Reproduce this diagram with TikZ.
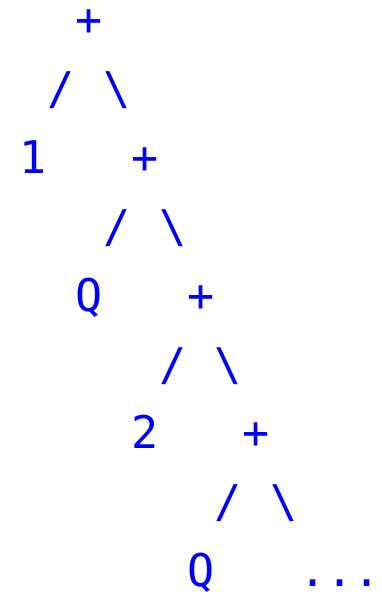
\documentclass[tikz,border=0pt]{standalone}
\usepackage{fontspec}
\setmonofont{DejaVu Sans Mono}
\usepackage{tikz}
\usetikzlibrary{positioning}
\definecolor{treeBlue}{RGB}{0, 0, 255}

\begin{document}
\begin{tikzpicture}[
		x=27.9pt, y=-68.9pt,
		glyph/.style={inner sep=0pt, outer sep=0pt, anchor=base, text=treeBlue,
			font=\ttfamily\fontsize{45}{45}\selectfont}
		]
		\useasboundingbox (-1.19,-0.5152) rectangle (12.467,8.2075);
		% first level
		\node[glyph] (plusA)   at (2,0) {+};
		\node[glyph] (leftA)   at (1,1) {/};
		\node[glyph] (rightA)  at (3,1) {\textbackslash};
		\node[glyph] (one)     at (0,2) {1};
		% second level
		\node[glyph] (plusB)   at (4,2) {+};
		\node[glyph] (leftB)   at (3,3) {/};
		\node[glyph] (rightB)  at (5,3) {\textbackslash};
		\node[glyph] (qA)      at (2,4) {Q};
		% third level
		\node[glyph] (plusC)   at (6,4) {+};
		\node[glyph] (leftC)   at (5,5) {/};
		\node[glyph] (rightC)  at (7,5) {\textbackslash};
		\node[glyph] (two)     at (4,6) {2};
		% fourth level
		\node[glyph] (plusD)   at (8,6) {+};
		\node[glyph] (leftD)   at (7,7) {/};
		\node[glyph] (rightD)  at (9,7) {\textbackslash};
		\node[glyph] (qB)      at (6,8) {Q};
		\node[glyph] (rest)    at (11,8) {...};
	\end{tikzpicture}
\end{document}
